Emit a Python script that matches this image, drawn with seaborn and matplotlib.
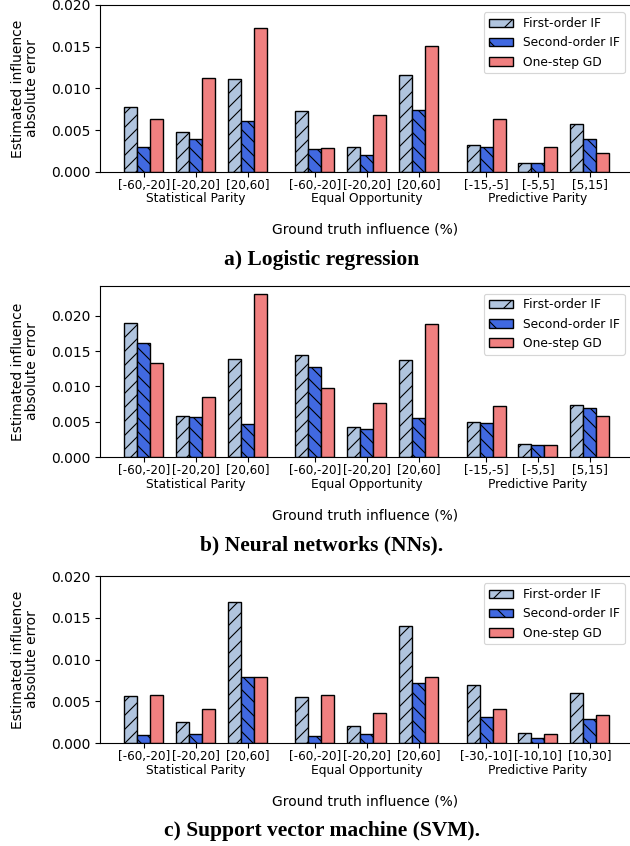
import pandas as pd
import numpy as np
import matplotlib
matplotlib.use('Agg')
import matplotlib.pyplot as plt
import seaborn as sns
from matplotlib.patches import Patch

# x positions of the bins (three groups with a small gap between groups)
positions = [0, 1, 2, 3.29, 4.29, 5.29, 6.58, 7.58, 8.58]
methods = ['First-order IF', 'Second-order IF', 'One-step GD']
colors = ['#b0c4de', '#4169e1', '#f08080']
hatches = ['//', '\\\\', '']
legend_hatches = ['/', '\\', '']
groups = ['Statistical Parity', 'Equal Opportunity', 'Predictive Parity']

# a) logistic regression
lr_bins = ['[-60,-20]', '[-20,20]', '[20,60]', '[-60,-20]', '[-20,20]', '[20,60]',
           '[-15,-5]', '[-5,5]', '[5,15]']
lr_first = [0.0078, 0.0048, 0.0111, 0.0073, 0.0030, 0.0116, 0.0032, 0.0011, 0.0058]
lr_second = [0.0030, 0.0040, 0.0061, 0.0027, 0.0020, 0.0074, 0.0030, 0.0011, 0.0040]
lr_gd = [0.0064, 0.0113, 0.0172, 0.0029, 0.0068, 0.0151, 0.0063, 0.0030, 0.0023]

# b) neural networks
nn_bins = lr_bins
nn_first = [0.0189, 0.0058, 0.0139, 0.0144, 0.0042, 0.0137, 0.0050, 0.0018, 0.0073]
nn_second = [0.0162, 0.0056, 0.0047, 0.0127, 0.0040, 0.0055, 0.0048, 0.0017, 0.0070]
nn_gd = [0.0133, 0.0085, 0.0231, 0.0098, 0.0076, 0.0188, 0.0072, 0.0017, 0.0058]

# c) SVM
svm_bins = ['[-60,-20]', '[-20,20]', '[20,60]', '[-60,-20]', '[-20,20]', '[20,60]',
            '[-30,-10]', '[-10,10]', '[10,30]']
svm_first = [0.0056, 0.0025, 0.0169, 0.0055, 0.0020, 0.0140, 0.0069, 0.0012, 0.0060]
svm_second = [0.0010, 0.0011, 0.0079, 0.0009, 0.0011, 0.0072, 0.0031, 0.0006, 0.0029]
svm_gd = [0.0058, 0.0041, 0.0079, 0.0057, 0.0036, 0.0079, 0.0041, 0.0011, 0.0033]

panels = [
    ('a) Logistic regression', lr_bins, lr_first, lr_second, lr_gd, 0.020, [0.7967, 0.1974]),
    ('b) Neural networks (NNs).', nn_bins, nn_first, nn_second, nn_gd, 0.0242, [0.4598, 0.2021]),
    ('c) Support vector machine (SVM).', svm_bins, svm_first, svm_second, svm_gd, 0.020, [0.1217, 0.1974]),
]

# lower dpi so the hatch lines come out as dense as in the original,
# everything measured in points is scaled up to compensate
DPI = 84
S = 100 / DPI
plt.rcParams.update({
    'hatch.linewidth': 0.8 * S,
    'axes.linewidth': 0.8 * S,
    'xtick.major.width': 0.8 * S, 'ytick.major.width': 0.8 * S,
    'xtick.major.size': 3.5 * S, 'ytick.major.size': 3.5 * S,
    'xtick.major.pad': 1.5 * S, 'ytick.major.pad': 3.5 * S,
    'legend.fontsize': 8.8 * S,
})
fig = plt.figure(figsize=(630 / DPI, 846 / DPI), dpi=DPI)

for title, bins, first, second, gd, ytop, (bottom, height) in panels:
    ax = fig.add_axes([0.1587, bottom, 0.8413, height])
    df = pd.DataFrame({
        'pos': positions * 3,
        'method': [methods[0]] * 9 + [methods[1]] * 9 + [methods[2]] * 9,
        'value': first + second + gd,
    })
    sns.barplot(data=df, x='pos', y='value', hue='method', hue_order=methods,
                palette=colors, saturation=1, native_scale=True, width=0.75,
                errorbar=None, edgecolor='black', linewidth=1 * S, legend=False, ax=ax)
    for cont, h in zip(ax.containers, hatches):
        for p in cont:
            p.set_hatch(h)
            p.set_edgecolor('black')

    ax.set_xlim(-0.846, 9.35)
    ax.set_ylim(0, ytop)
    ax.set_yticks([0, 0.005, 0.010, 0.015, 0.020])
    ax.set_yticklabels(['0.000', '0.005', '0.010', '0.015', '0.020'], fontsize=10 * S)
    ax.set_xticks(positions)
    ax.set_xticklabels(bins, fontsize=8.6 * S)
    ax.spines['right'].set_visible(False)

    for gi, g in enumerate(groups):
        ax.text(positions[gi * 3 + 1], -27 / (height * 846), g, fontsize=8.8 * S,
                ha='center', va='center',
                transform=ax.get_xaxis_transform())
    ax.set_xlabel('')
    ax.set_ylabel('Estimated influence\nabsolute error', fontsize=10 * S, linespacing=1.0)
    ax.yaxis.set_label_coords(-0.115, 0.5)

    fig.text(365 / 630, bottom - 58 / 846, 'Ground truth influence (%)', fontsize=10 * S,
             ha='center', va='center')
    fig.text(0.511, bottom - 88 / 846, title, fontsize=15.5 * S, fontweight='bold',
             family='Liberation Serif', ha='center', va='center')

    handles = [Patch(facecolor=c, edgecolor='black', linewidth=1 * S, hatch=h, label=m)
               for c, h, m in zip(colors, legend_hatches, methods)]
    ax.legend(handles=handles, loc='upper right',
              bbox_to_anchor=(0.995, 0.97), borderaxespad=0.2)

fig.savefig('out.png', dpi=DPI)
